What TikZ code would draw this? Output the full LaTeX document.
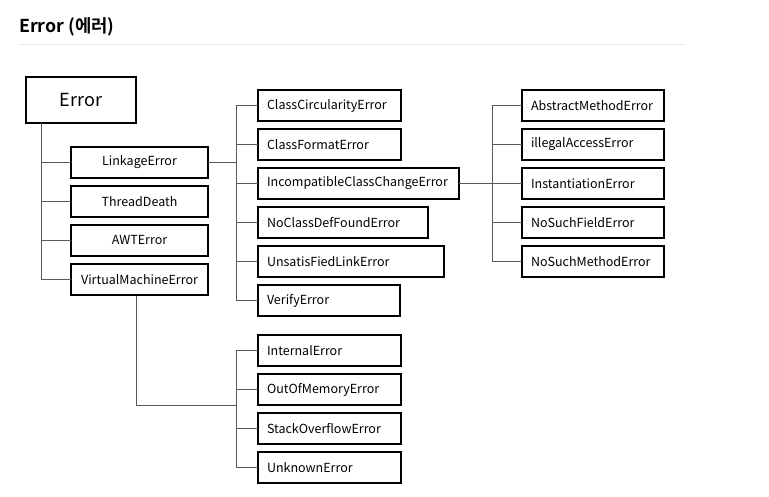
\documentclass[tikz,border=0pt]{standalone}
\usepackage{fontspec}
\setmainfont{Noto Sans CJK KR}
\newfontfamily\titlefont{Noto Sans CJK KR Bold}
\begin{document}
\begin{tikzpicture}[x=1pt,y=-1pt,
  box/.style={draw=black,line width=1.2pt,inner sep=0pt,outer sep=0pt,anchor=north west,font=\fontsize{12.5}{14}\selectfont},
  lbox/.style={box,inner xsep=9pt,align=left},
  conn/.style={draw=black!65,line width=1pt}]
\useasboundingbox[fill=white] (0,0) rectangle (769,497);
% title
\node[anchor=base west,inner sep=0pt,font=\titlefont\fontsize{17.8}{20}\selectfont] (title) at (19,33) {Error (에러)};
\coordinate (hl1) at (19,45); \coordinate (hl2) at (685,45);
\draw[black!8,line width=1pt] (hl1) -- (hl2);
% root
\node[box,minimum width=110pt,minimum height=46pt,font=\fontsize{18}{20}\selectfont] (err) at (26,77) {Error};
% first column
\node[box,minimum width=137pt,minimum height=31pt] (link) at (71,147) {LinkageError};
\node[box,minimum width=137pt,minimum height=31pt] (td) at (71,186) {ThreadDeath};
\node[box,minimum width=137pt,minimum height=31pt] (awt) at (71,225) {AWTError};
\node[box,minimum width=137pt,minimum height=31pt] (vme) at (71,264) {VirtualMachineError};
\coordinate (t1) at (41.6,123);
\foreach \n in {link,td,awt,vme} \draw[conn] (t1) |- (\n.west);
% second column
\newcommand\lb[4]{\node[lbox,minimum width=#3pt,minimum height=31pt,text width=#3pt-18pt] (#1) at (#2) {#4};}
\lb{cc}{258,90}{143}{ClassCircularityError}
\lb{cf}{258,129}{143}{ClassFormatError}
\lb{icc}{258,168}{201}{IncompatibleClassChangeError}
\lb{ncd}{258,207}{170}{NoClassDefFoundError}
\lb{ul}{258,246}{186}{UnsatisFiedLinkError}
\lb{ve}{258,285}{142}{VerifyError}
\coordinate (x2) at (236,0);
\coordinate (t2) at (link.east -| x2);
\draw[conn] (link.east) -- (t2);
\foreach \n in {cc,cf,icc,ncd,ul,ve} \draw[conn] (t2) |- (\n.west);
% third column
\lb{ame}{522,90}{142}{AbstractMethodError}
\lb{iae}{522,129}{142}{illegalAccessError}
\lb{ins}{522,168}{142}{InstantiationError}
\lb{nsf}{522,207}{142}{NoSuchFieldError}
\lb{nsm}{522,246}{142}{NoSuchMethodError}
\coordinate (x3) at (492,0);
\coordinate (t3) at (icc.east -| x3);
\draw[conn] (icc.east) -- (t3);
\foreach \n in {ame,iae,ins,nsf,nsm} \draw[conn] (t3) |- (\n.west);
% fourth group
\lb{ie}{258,335}{143}{InternalError}
\lb{oom}{258,374}{143}{OutOfMemoryError}
\lb{so}{258,413}{143}{StackOverflowError}
\lb{ue}{258,452}{143}{UnknownError}
\coordinate (v) at (136.7,296);
\coordinate (t4) at (236,405.5);
\draw[conn] (v) |- (t4);
\foreach \n in {ie,oom,so,ue} \draw[conn] (t4) |- (\n.west);
\end{tikzpicture}
\end{document}
